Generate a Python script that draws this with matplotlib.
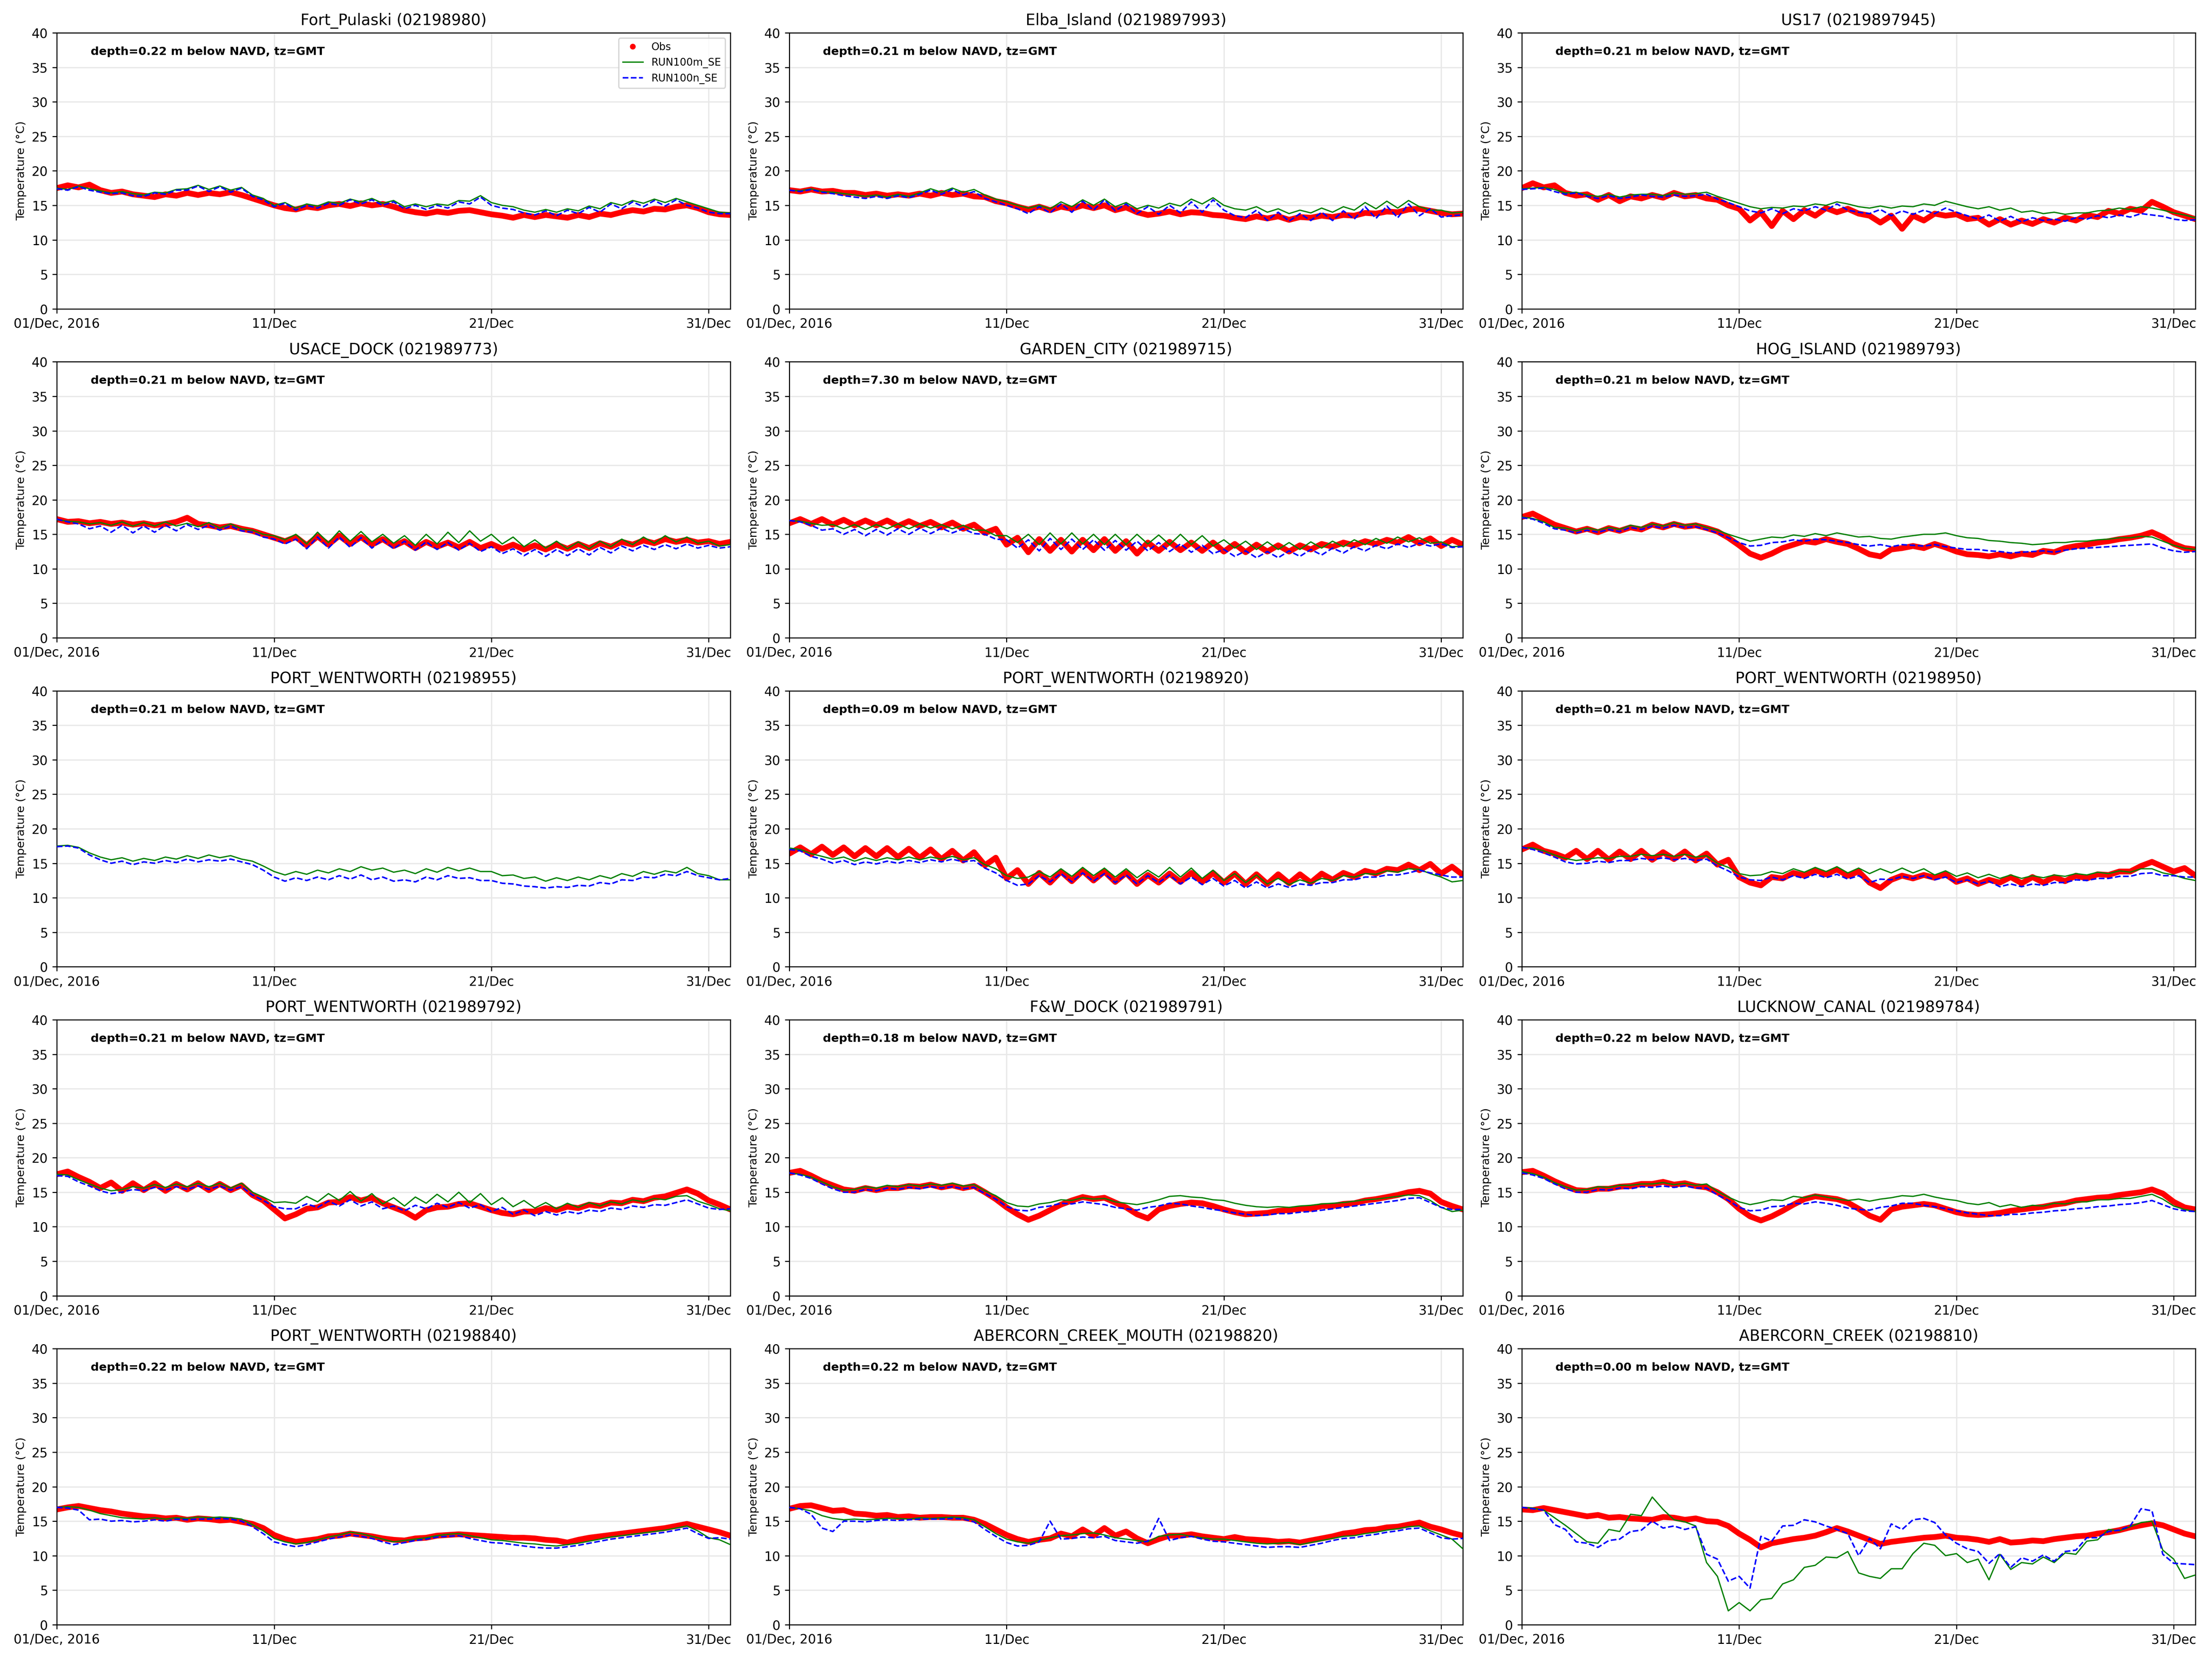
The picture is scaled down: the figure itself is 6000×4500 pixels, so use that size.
import matplotlib
matplotlib.use('Agg')
import matplotlib.pyplot as plt
from matplotlib.lines import Line2D
import pandas as pd
import numpy as np

# 12-hourly samples, 01 Dec 2016 00:00 -> 01 Jan 2017 00:00 (63 values)
times = pd.date_range('2016-12-01', periods=63, freq='12h')
tick_dates = pd.to_datetime(['2016-12-01', '2016-12-11', '2016-12-21', '2016-12-31'])
tick_labels = ['01/Dec, 2016', '11/Dec', '21/Dec', '31/Dec']

titles = ['Fort_Pulaski (02198980)', 'Elba_Island (0219897993)', 'US17 (0219897945)',
          'USACE_DOCK (021989773)', 'GARDEN_CITY (021989715)', 'HOG_ISLAND (021989793)',
          'PORT_WENTWORTH (02198955)', 'PORT_WENTWORTH (02198920)', 'PORT_WENTWORTH (02198950)',
          'PORT_WENTWORTH (021989792)', 'F&W_DOCK (021989791)', 'LUCKNOW_CANAL (021989784)',
          'PORT_WENTWORTH (02198840)', 'ABERCORN_CREEK_MOUTH (02198820)', 'ABERCORN_CREEK (02198810)']
depths = ['0.22', '0.21', '0.21', '0.21', '7.30', '0.21', '0.21', '0.09', '0.21',
          '0.21', '0.18', '0.22', '0.22', '0.22', '0.00']

# Fort_Pulaski
obs_fort = [17.5, 17.9, 17.6, 18.0, 17.2, 16.8, 17.0, 16.6, 16.4, 16.2, 16.6, 16.4, 16.8, 16.5, 16.8, 16.6,
            16.9, 16.5, 16.0, 15.5, 15.0, 14.6, 14.4, 14.8, 14.6, 15.0, 15.2, 14.9, 15.3, 15.0, 15.2, 14.8,
            14.3, 14.0, 13.8, 14.1, 13.9, 14.2, 14.3, 14.0, 13.7, 13.5, 13.2, 13.6, 13.3, 13.6, 13.4, 13.2,
            13.6, 13.3, 13.8, 13.6, 14.0, 14.3, 14.1, 14.5, 14.4, 14.8, 15.0, 14.6, 14.0, 13.7, 13.6]
m_fort = [17.5, 17.3, 17.8, 17.4, 17.1, 16.8, 17.0, 16.7, 16.5, 16.9, 16.8, 17.3, 17.4, 17.9, 17.3, 17.8,
          17.2, 17.6, 16.5, 16.0, 15.0, 15.4, 14.6, 15.2, 14.9, 15.5, 15.3, 15.9, 15.5, 16.0, 15.3, 15.7,
          14.8, 15.2, 14.8, 15.2, 15.0, 15.7, 15.6, 16.4, 15.4, 15.0, 14.8, 14.3, 14.0, 14.4, 14.0, 14.5,
          14.2, 14.9, 14.5, 15.4, 15.0, 15.7, 15.3, 15.9, 15.4, 16.0, 15.5, 15.0, 14.5, 14.0, 13.9]
n_fort = [17.4, 17.2, 17.7, 17.2, 16.9, 16.7, 16.8, 16.4, 16.3, 16.8, 16.6, 17.2, 17.2, 17.8, 17.0, 17.7,
          16.9, 17.5, 16.3, 15.8, 14.8, 15.3, 14.3, 15.0, 14.6, 15.3, 15.0, 15.8, 15.2, 15.8, 15.0, 15.5,
          14.5, 15.0, 14.4, 15.0, 14.6, 15.5, 15.2, 16.2, 15.0, 14.6, 14.4, 13.9, 13.6, 14.2, 13.5, 14.3,
          13.8, 14.7, 14.0, 15.2, 14.5, 15.5, 14.8, 15.7, 14.9, 15.8, 15.0, 14.6, 14.0, 13.8, 13.8]

# Elba_Island
obs_elba = [17.2, 17.0, 17.3, 17.0, 17.1, 16.8, 16.8, 16.5, 16.7, 16.4, 16.6, 16.4, 16.7, 16.4, 16.8, 16.5,
            16.7, 16.3, 16.2, 15.6, 15.3, 14.8, 14.4, 14.8, 14.3, 14.8, 14.5, 15.0, 14.6, 15.0, 14.3, 14.7,
            14.0, 13.6, 13.8, 14.1, 13.7, 14.0, 13.9, 13.6, 13.5, 13.2, 13.0, 13.4, 13.1, 13.4, 12.9, 13.3,
            13.2, 13.5, 13.3, 13.6, 13.5, 13.9, 13.8, 14.1, 14.0, 14.4, 14.5, 14.2, 13.9, 13.7, 13.8]
m_elba = [17.2, 17.1, 17.4, 17.0, 16.9, 16.7, 16.5, 16.3, 16.5, 16.2, 16.6, 16.3, 16.8, 17.4, 16.9, 17.5,
          16.9, 17.3, 16.5, 15.9, 15.5, 15.0, 14.6, 15.0, 14.5, 15.5, 14.8, 15.8, 15.0, 15.9, 14.8, 15.4,
          14.5, 15.0, 14.6, 15.3, 14.9, 15.9, 15.2, 16.1, 15.0, 14.5, 14.3, 14.8, 14.0, 14.5, 13.8, 14.3,
          13.9, 14.6, 14.0, 14.8, 14.3, 15.4, 14.5, 15.6, 14.6, 15.7, 14.8, 14.3, 14.3, 13.9, 14.0]
n_elba = [17.2, 17.0, 17.3, 16.9, 16.7, 16.4, 16.2, 16.0, 16.3, 16.0, 16.4, 16.1, 16.6, 17.2, 16.6, 17.3,
          16.5, 17.0, 16.0, 15.5, 15.0, 14.5, 13.8, 14.8, 13.9, 15.2, 14.0, 15.6, 14.3, 15.8, 14.2, 15.2,
          13.8, 14.8, 13.7, 15.0, 13.9, 15.5, 14.0, 15.8, 14.3, 13.5, 13.2, 14.3, 12.8, 14.0, 12.7, 13.8,
          12.8, 14.0, 12.8, 14.2, 13.0, 14.8, 13.1, 14.9, 13.2, 15.2, 13.5, 14.5, 13.3, 13.5, 13.6]

# US17
obs_us17 = [17.5, 18.2, 17.6, 17.9, 16.8, 16.4, 16.6, 15.8, 16.5, 15.6, 16.3, 16.0, 16.5, 16.1, 16.8, 16.3,
            16.5, 16.0, 15.8, 15.0, 14.5, 12.8, 14.0, 12.0, 14.2, 13.0, 14.3, 13.5, 14.6, 14.0, 14.5, 13.8,
            13.5, 12.5, 13.5, 11.6, 13.5, 12.8, 13.8, 13.5, 13.7, 13.0, 13.2, 12.2, 13.0, 12.2, 12.8, 12.3,
            13.0, 12.5, 13.2, 12.8, 13.6, 13.3, 14.2, 13.8, 14.5, 14.2, 15.5, 14.8, 14.0, 13.5, 13.0]
m_us17 = [17.4, 17.5, 17.6, 17.3, 16.8, 16.9, 16.5, 16.3, 16.6, 16.2, 16.5, 16.6, 16.6, 16.4, 16.8, 16.6,
          16.7, 16.9, 16.3, 15.8, 15.3, 14.8, 14.5, 14.7, 14.6, 14.9, 14.8, 15.2, 15.0, 15.5, 15.2, 14.8,
          14.6, 14.9, 14.6, 14.9, 14.8, 15.2, 15.0, 15.6, 15.2, 14.8, 14.5, 14.8, 14.3, 14.6, 14.0, 14.2,
          13.8, 14.0, 13.7, 13.9, 13.9, 14.2, 14.3, 14.6, 14.4, 14.8, 14.6, 14.3, 13.9, 13.6, 13.2]
n_us17 = [17.3, 17.4, 17.5, 17.0, 16.6, 16.8, 16.3, 16.0, 16.4, 16.0, 16.2, 16.5, 16.3, 16.2, 16.5, 16.3,
          16.4, 16.6, 15.9, 15.4, 14.8, 14.2, 13.9, 14.5, 13.8, 14.5, 14.2, 14.8, 14.3, 15.2, 14.3, 14.0,
          13.8, 14.4, 13.5, 14.2, 13.7, 14.3, 13.8, 14.6, 14.0, 13.5, 13.0, 13.6, 12.7, 13.4, 12.6, 13.2,
          12.8, 13.0, 12.7, 13.2, 13.0, 13.5, 13.2, 13.6, 13.3, 13.8, 13.6, 13.4, 13.0, 12.8, 12.9]

# USACE_DOCK
obs_usace = [17.2, 16.8, 16.9, 16.6, 16.8, 16.5, 16.7, 16.4, 16.6, 16.3, 16.5, 16.8, 17.4, 16.5, 16.3, 16.0,
             16.2, 15.8, 15.5, 15.0, 14.5, 14.0, 14.6, 13.4, 14.7, 13.5, 14.8, 13.6, 14.6, 13.5, 14.3, 13.3,
             14.0, 13.0, 13.9, 13.2, 13.8, 13.1, 13.9, 13.0, 13.6, 12.9, 13.5, 12.8, 13.4, 12.8, 13.5, 12.9,
             13.6, 13.0, 13.7, 13.2, 13.9, 13.5, 14.1, 13.7, 14.3, 13.9, 14.2, 13.8, 14.0, 13.6, 13.9]
m_usace = [17.1, 16.9, 16.8, 16.5, 16.7, 16.3, 16.8, 16.2, 16.7, 16.2, 16.8, 16.2, 16.6, 16.1, 16.7, 15.9,
           16.5, 15.8, 15.6, 15.0, 14.8, 14.2, 15.0, 13.6, 15.3, 13.8, 15.5, 14.0, 15.4, 13.9, 15.0, 13.7,
           14.8, 13.4, 15.0, 13.6, 15.3, 13.8, 15.5, 14.0, 15.0, 13.6, 14.6, 13.2, 14.2, 13.0, 14.0, 12.9,
           13.9, 12.9, 14.0, 13.2, 14.3, 13.5, 14.6, 13.7, 14.8, 13.9, 14.6, 13.7, 14.0, 13.3, 13.5]
n_usace = [17.2, 16.8, 16.5, 15.8, 16.2, 15.3, 16.3, 15.2, 16.2, 15.3, 16.3, 15.5, 16.4, 15.7, 16.3, 15.6,
           16.2, 15.5, 15.3, 14.6, 14.3, 13.6, 14.3, 12.9, 14.6, 13.0, 14.6, 13.1, 14.5, 13.0, 14.2, 12.9,
           14.0, 12.7, 13.9, 12.8, 13.8, 12.7, 13.7, 12.5, 13.2, 12.2, 12.9, 11.9, 12.8, 11.8, 12.8, 11.9,
           12.9, 12.0, 13.1, 12.3, 13.3, 12.6, 13.4, 12.8, 13.5, 12.9, 13.6, 13.0, 13.4, 13.0, 13.2]

# GARDEN_CITY
obs_garden = [16.6, 17.2, 16.5, 17.2, 16.4, 17.1, 16.3, 17.0, 16.3, 17.0, 16.2, 16.9, 16.2, 16.8, 16.0, 16.7,
              15.8, 16.4, 15.2, 15.8, 13.5, 14.5, 12.4, 14.3, 12.6, 14.2, 12.5, 14.2, 12.7, 14.3, 12.6, 14.0,
              12.2, 13.8, 12.6, 13.9, 12.7, 13.8, 12.6, 13.8, 12.5, 13.6, 12.4, 13.5, 12.5, 13.4, 12.5, 13.4,
              12.8, 13.6, 13.2, 13.8, 13.4, 14.0, 13.6, 14.2, 13.8, 14.6, 13.7, 14.4, 13.3, 14.2, 13.5]
m_garden = [17.0, 16.9, 16.6, 16.3, 16.4, 15.8, 16.4, 15.7, 16.4, 15.8, 16.5, 15.8, 16.5, 15.9, 16.4, 15.8,
            16.3, 15.6, 15.6, 14.8, 14.8, 13.8, 15.0, 13.5, 15.2, 13.6, 15.2, 13.6, 15.0, 13.5, 15.0, 13.5,
            15.0, 13.6, 14.9, 13.5, 15.0, 13.5, 14.8, 13.3, 14.2, 13.0, 14.0, 12.8, 13.9, 12.8, 13.8, 12.8,
            13.9, 13.0, 14.0, 13.2, 14.2, 13.5, 14.4, 13.7, 14.6, 13.9, 14.5, 13.7, 13.9, 13.2, 13.3]
n_garden = [17.0, 16.8, 16.3, 15.6, 15.8, 15.0, 15.7, 14.8, 15.7, 14.9, 15.8, 15.0, 15.9, 15.1, 15.9, 15.2,
            15.8, 15.1, 15.0, 14.3, 14.2, 13.0, 14.2, 12.6, 14.4, 12.8, 14.3, 12.8, 14.2, 12.7, 14.1, 12.7,
            14.0, 12.6, 13.8, 12.5, 13.6, 12.4, 13.4, 12.2, 12.8, 11.8, 12.6, 11.6, 12.5, 11.6, 12.6, 11.8,
            12.8, 12.0, 13.0, 12.3, 13.2, 12.6, 13.4, 12.9, 13.6, 13.1, 13.7, 13.3, 13.6, 13.1, 13.2]

# HOG_ISLAND
obs_hog = [17.5, 18.0, 17.2, 16.4, 15.9, 15.4, 15.8, 15.3, 15.9, 15.5, 16.0, 15.7, 16.4, 16.0, 16.5, 16.1,
           16.3, 15.9, 15.4, 14.5, 13.4, 12.2, 11.6, 12.2, 13.0, 13.5, 14.0, 13.8, 14.3, 13.9, 13.6, 12.9,
           12.1, 11.8, 12.8, 13.0, 13.3, 13.0, 13.6, 13.1, 12.5, 12.1, 12.0, 11.8, 12.1, 11.8, 12.2, 12.0,
           12.6, 12.4, 13.0, 13.3, 13.5, 13.8, 14.0, 14.3, 14.5, 14.8, 15.3, 14.6, 13.6, 13.0, 12.8]
m_hog = [17.5, 17.3, 16.8, 16.0, 15.9, 15.5, 15.9, 15.6, 16.0, 15.7, 16.3, 16.0, 16.5, 16.2, 16.7, 16.3,
         16.5, 16.0, 15.6, 15.0, 14.5, 14.0, 14.3, 14.6, 14.5, 14.9, 14.7, 15.1, 14.8, 15.2, 14.9, 14.6,
         14.7, 14.4, 14.3, 14.6, 14.8, 15.0, 15.0, 15.2, 14.8, 14.5, 14.4, 14.1, 14.0, 13.8, 13.7, 13.5,
         13.6, 13.8, 13.8, 14.0, 14.0, 14.2, 14.3, 14.5, 14.5, 14.7, 14.6, 14.0, 13.4, 13.0, 12.8]
n_hog = [17.4, 17.2, 16.6, 15.8, 15.6, 15.2, 15.6, 15.3, 15.7, 15.4, 16.0, 15.7, 16.2, 15.9, 16.3, 16.0,
         16.1, 15.7, 15.2, 14.5, 13.8, 13.3, 13.4, 13.8, 13.9, 14.2, 14.0, 14.3, 14.2, 14.0, 13.8, 13.5,
         13.3, 13.5, 13.2, 13.5, 13.4, 13.3, 13.5, 13.2, 13.0, 12.8, 12.8, 12.6, 12.5, 12.3, 12.4, 12.5,
         12.6, 12.4, 12.7, 12.9, 13.0, 13.1, 13.2, 13.3, 13.4, 13.5, 13.6, 13.0, 12.6, 12.4, 12.5]

# PORT_WENTWORTH (02198955), no observations
m_pw955 = [17.5, 17.6, 17.3, 16.5, 15.9, 15.5, 15.8, 15.3, 15.7, 15.4, 15.9, 15.6, 16.1, 15.7, 16.2, 15.8,
           16.1, 15.6, 15.3, 14.6, 13.8, 13.3, 13.8, 13.4, 14.0, 13.6, 14.2, 13.8, 14.5, 14.0, 14.3, 13.7,
           14.0, 13.5, 14.2, 13.7, 14.4, 13.9, 14.3, 13.8, 13.8, 13.2, 13.3, 12.8, 13.0, 12.4, 12.9, 12.5,
           13.0, 12.6, 13.2, 12.8, 13.5, 13.1, 13.8, 13.4, 13.9, 13.6, 14.4, 13.5, 13.2, 12.6, 12.6]
n_pw955 = [17.4, 17.5, 17.2, 16.2, 15.5, 15.0, 15.3, 14.8, 15.2, 15.0, 15.4, 15.1, 15.6, 15.2, 15.5, 15.3,
           15.6, 15.2, 14.8, 14.0, 13.0, 12.4, 12.9, 12.5, 13.0, 12.6, 13.2, 12.7, 13.3, 12.6, 13.0, 12.4,
           12.6, 12.3, 13.0, 12.6, 13.2, 12.8, 12.9, 12.5, 12.5, 12.1, 12.0, 11.7, 11.6, 11.4, 11.6, 11.5,
           11.8, 11.7, 12.2, 12.0, 12.6, 12.5, 13.0, 12.9, 13.4, 13.2, 13.8, 13.2, 12.9, 12.6, 12.8]

# PORT_WENTWORTH (02198920)
obs_pw920 = [16.4, 17.3, 16.3, 17.4, 16.2, 17.3, 16.0, 17.2, 16.0, 17.2, 15.9, 17.1, 15.8, 17.0, 15.6, 16.8,
             15.4, 16.6, 14.7, 15.8, 12.8, 14.0, 12.0, 13.6, 12.2, 13.8, 12.4, 13.9, 12.5, 13.8, 12.3, 13.6,
             12.0, 13.3, 12.2, 13.5, 12.3, 13.6, 12.3, 13.6, 12.2, 13.5, 12.0, 13.4, 12.0, 13.4, 12.1, 13.4,
             12.2, 13.5, 12.6, 13.6, 13.0, 13.9, 13.5, 14.2, 14.0, 14.8, 14.0, 14.9, 13.5, 14.5, 13.3]
m_pw920 = [17.2, 17.0, 16.4, 16.0, 15.6, 15.9, 15.3, 15.8, 15.4, 15.8, 15.5, 15.9, 15.5, 15.9, 15.6, 16.0,
           15.5, 15.8, 14.8, 14.2, 13.2, 12.8, 13.0, 13.8, 13.0, 14.2, 13.1, 14.4, 13.2, 14.3, 13.0, 14.2,
           12.9, 14.0, 13.0, 14.4, 13.0, 14.3, 12.8, 14.0, 12.5, 13.5, 12.2, 13.3, 12.0, 12.8, 11.9, 12.6,
           12.1, 12.8, 12.5, 13.2, 13.0, 13.5, 13.4, 13.9, 13.7, 14.2, 14.1, 13.5, 13.0, 12.3, 12.5]
n_pw920 = [17.0, 16.8, 16.0, 15.6, 15.0, 15.4, 14.8, 15.2, 14.9, 15.3, 15.0, 15.4, 15.1, 15.5, 15.2, 15.6,
           15.2, 15.4, 14.3, 13.6, 12.5, 11.8, 12.0, 13.2, 12.3, 13.5, 12.3, 13.6, 12.4, 13.5, 12.2, 13.3,
           12.0, 13.2, 12.2, 13.3, 12.0, 13.0, 11.9, 12.8, 11.7, 12.5, 11.4, 12.3, 11.4, 12.0, 11.5, 12.0,
           11.8, 12.2, 12.2, 12.6, 12.6, 13.0, 13.0, 13.3, 13.3, 13.6, 14.0, 13.6, 13.3, 13.0, 13.0]

# PORT_WENTWORTH (02198950)
obs_pw950 = [17.0, 17.7, 16.8, 16.4, 15.8, 16.8, 15.6, 16.8, 15.5, 16.7, 15.6, 16.8, 15.5, 16.6, 15.6, 16.7,
             15.4, 16.4, 14.8, 15.5, 13.0, 12.2, 11.8, 13.0, 12.8, 13.6, 13.2, 14.0, 13.4, 14.1, 13.2, 13.8,
             12.2, 11.4, 12.6, 13.2, 12.8, 13.3, 12.9, 13.4, 12.3, 12.8, 12.0, 12.6, 12.2, 13.0, 12.1, 13.0,
             12.2, 13.0, 12.4, 13.2, 12.8, 13.4, 13.3, 13.8, 13.8, 14.6, 15.2, 14.5, 13.8, 14.3, 13.2]
m_pw950 = [17.3, 17.2, 16.8, 16.2, 15.7, 15.4, 15.6, 15.8, 15.7, 16.0, 16.0, 16.3, 16.1, 16.3, 16.0, 16.3,
           15.9, 16.1, 15.0, 14.4, 13.5, 13.2, 13.3, 13.8, 13.5, 14.2, 13.7, 14.4, 13.8, 14.5, 13.6, 14.3,
           13.5, 14.2, 13.6, 14.3, 13.6, 14.2, 13.3, 13.9, 13.1, 13.6, 12.9, 13.4, 12.8, 13.3, 12.8, 13.2,
           12.9, 13.3, 13.1, 13.5, 13.3, 13.7, 13.5, 13.9, 13.7, 14.2, 14.2, 13.6, 13.3, 12.8, 12.5]
n_pw950 = [17.3, 17.0, 16.5, 15.9, 15.2, 14.9, 15.0, 15.3, 15.1, 15.4, 15.4, 15.7, 15.5, 15.8, 15.5, 15.7,
           15.4, 15.6, 14.6, 13.9, 13.0, 12.6, 12.5, 13.0, 12.6, 13.2, 12.8, 13.4, 12.9, 13.4, 12.7, 13.2,
           12.2, 12.7, 12.6, 13.1, 12.8, 13.2, 12.6, 13.0, 12.2, 12.6, 12.0, 12.4, 11.6, 12.0, 11.6, 12.0,
           11.8, 12.2, 12.2, 12.6, 12.5, 12.8, 12.8, 13.1, 13.1, 13.5, 13.6, 13.2, 13.2, 13.0, 13.0]

# PORT_WENTWORTH (021989792)
obs_pw792 = [17.6, 18.0, 17.2, 16.5, 15.6, 16.4, 15.2, 16.3, 15.3, 16.3, 15.2, 16.2, 15.4, 16.3, 15.3, 16.2,
             15.3, 16.0, 14.6, 13.8, 12.5, 11.2, 11.8, 12.6, 12.8, 13.5, 13.6, 14.3, 13.8, 14.2, 13.4, 12.8,
             12.2, 11.3, 12.4, 12.8, 12.9, 13.3, 13.4, 12.9, 12.4, 12.0, 11.8, 12.2, 12.2, 12.7, 12.4, 12.9,
             12.7, 13.2, 13.0, 13.5, 13.4, 13.9, 13.7, 14.2, 14.4, 14.9, 15.4, 14.8, 13.8, 13.2, 12.5]
m_pw792 = [17.6, 17.5, 16.8, 16.2, 15.6, 15.2, 15.4, 15.8, 15.6, 16.1, 15.7, 16.2, 15.8, 16.3, 15.8, 16.3,
           15.6, 16.3, 15.0, 14.3, 13.5, 13.6, 13.4, 14.4, 13.6, 14.8, 13.8, 15.1, 13.7, 14.8, 13.3, 14.2,
           13.0, 14.3, 13.4, 14.7, 13.6, 15.0, 13.5, 14.8, 13.2, 14.2, 12.9, 13.8, 12.7, 13.5, 12.6, 13.4,
           12.8, 13.5, 13.0, 13.6, 13.3, 13.9, 13.6, 14.1, 13.9, 14.4, 14.5, 13.7, 13.2, 12.6, 12.3]
n_pw792 = [17.4, 17.3, 16.5, 15.9, 15.2, 14.8, 15.0, 15.4, 15.2, 15.7, 15.3, 15.8, 15.4, 15.9, 15.4, 15.9,
           15.3, 15.8, 14.6, 13.8, 12.9, 12.6, 12.6, 13.3, 12.8, 13.7, 13.0, 13.9, 13.0, 13.6, 12.6, 13.0,
           12.3, 13.1, 12.6, 13.4, 12.8, 13.5, 12.7, 13.2, 12.2, 12.8, 11.8, 12.4, 11.6, 12.2, 11.7, 12.2,
           11.9, 12.4, 12.2, 12.7, 12.5, 13.0, 12.8, 13.2, 13.1, 13.5, 13.9, 13.3, 12.7, 12.5, 12.6]

# F&W_DOCK
obs_fw = [17.8, 18.1, 17.4, 16.6, 16.0, 15.4, 15.2, 15.6, 15.3, 15.6, 15.6, 15.9, 15.8, 16.1, 15.7, 16.0,
          15.6, 15.9, 15.0, 14.0, 12.8, 11.8, 11.0, 11.6, 12.4, 13.2, 13.8, 14.3, 14.0, 14.2, 13.5, 12.8,
          11.8, 11.2, 12.5, 13.0, 13.3, 13.5, 13.4, 13.0, 12.5, 12.1, 11.8, 11.9, 12.0, 12.3, 12.4, 12.6,
          12.6, 13.0, 13.0, 13.3, 13.4, 13.8, 14.0, 14.3, 14.6, 15.0, 15.2, 14.8, 13.6, 13.0, 12.5]
m_fw = [17.8, 17.6, 17.2, 16.5, 15.8, 15.3, 15.4, 15.8, 15.6, 16.0, 15.8, 16.1, 15.9, 16.2, 16.0, 16.3,
        15.9, 16.1, 15.2, 14.5, 13.5, 13.0, 12.9, 13.3, 13.5, 13.9, 13.8, 14.2, 14.0, 14.1, 13.6, 13.4,
        13.2, 13.5, 13.9, 14.4, 14.5, 14.3, 14.2, 13.9, 13.8, 13.4, 13.1, 12.9, 12.8, 12.9, 12.8, 13.0,
        13.1, 13.3, 13.4, 13.5, 13.7, 13.9, 14.0, 14.2, 14.4, 14.6, 14.5, 13.8, 12.8, 12.2, 12.4]
n_fw = [17.8, 17.5, 17.0, 16.2, 15.5, 15.0, 15.0, 15.4, 15.2, 15.6, 15.4, 15.7, 15.5, 15.8, 15.6, 15.8,
        15.5, 15.7, 14.8, 14.0, 12.9, 12.4, 12.3, 12.8, 13.0, 13.4, 13.3, 13.6, 13.4, 13.2, 12.8, 12.6,
        12.4, 12.8, 13.0, 13.4, 13.3, 13.0, 12.8, 12.5, 12.3, 12.0, 11.8, 11.6, 11.7, 11.9, 11.9, 12.1,
        12.2, 12.4, 12.6, 12.8, 13.0, 13.2, 13.4, 13.6, 13.8, 14.1, 14.2, 13.5, 12.8, 12.5, 12.5]

# LUCKNOW_CANAL
obs_luck = [17.9, 18.1, 17.4, 16.6, 15.9, 15.3, 15.2, 15.5, 15.5, 15.8, 15.9, 16.2, 16.2, 16.5, 16.1, 16.3,
            15.9, 15.7, 15.0, 14.0, 12.6, 11.5, 10.9, 11.5, 12.3, 13.2, 14.0, 14.4, 14.2, 14.0, 13.5, 12.6,
            11.6, 11.0, 12.5, 12.9, 13.1, 13.3, 13.1, 12.6, 12.1, 11.8, 11.7, 11.8, 12.0, 12.3, 12.5, 12.7,
            12.9, 13.2, 13.4, 13.8, 14.0, 14.2, 14.3, 14.6, 14.8, 15.0, 15.4, 14.8, 13.6, 12.8, 12.5]
m_luck = [18.0, 17.7, 17.2, 16.4, 15.8, 15.3, 15.4, 15.8, 15.7, 16.0, 16.0, 16.2, 16.2, 16.4, 16.1, 16.3,
          16.0, 16.2, 15.1, 14.3, 13.6, 13.2, 13.5, 13.9, 13.8, 14.4, 14.2, 14.6, 14.3, 14.0, 13.8, 14.0,
          13.7, 14.0, 14.2, 14.5, 14.4, 14.7, 14.3, 14.0, 13.8, 13.4, 13.2, 13.5, 12.9, 13.2, 12.8, 13.1,
          13.0, 13.4, 13.3, 13.6, 13.6, 13.9, 13.9, 14.1, 14.1, 14.4, 14.7, 14.0, 13.0, 12.5, 12.2]
n_luck = [17.8, 17.5, 17.0, 16.2, 15.5, 15.0, 15.0, 15.4, 15.3, 15.6, 15.5, 15.8, 15.7, 15.9, 15.7, 15.9,
          15.6, 15.6, 14.6, 13.8, 12.8, 12.3, 12.4, 12.9, 13.0, 13.4, 13.3, 13.6, 13.4, 13.1, 12.7, 12.5,
          12.4, 12.8, 13.0, 13.4, 13.4, 13.1, 12.9, 12.6, 12.3, 12.0, 11.8, 11.6, 11.6, 11.8, 11.8, 12.0,
          12.1, 12.3, 12.4, 12.6, 12.7, 12.9, 13.0, 13.2, 13.3, 13.5, 13.8, 13.2, 12.6, 12.3, 12.2]

# PORT_WENTWORTH (02198840)
obs_pw840 = [16.7, 17.0, 17.2, 16.9, 16.6, 16.4, 16.1, 15.9, 15.7, 15.6, 15.4, 15.5, 15.2, 15.4, 15.3, 15.1,
             15.2, 14.9, 14.6, 14.0, 13.0, 12.4, 12.0, 12.2, 12.4, 12.8, 12.9, 13.2, 13.0, 12.8, 12.5, 12.3,
             12.2, 12.5, 12.6, 12.9, 13.0, 13.1, 13.0, 12.9, 12.8, 12.7, 12.6, 12.6, 12.5, 12.3, 12.2, 11.9,
             12.3, 12.6, 12.8, 13.0, 13.2, 13.4, 13.6, 13.8, 14.0, 14.3, 14.6, 14.2, 13.8, 13.4, 12.9]
m_pw840 = [17.0, 17.1, 17.0, 16.6, 16.1, 15.8, 15.5, 15.4, 15.3, 15.5, 15.3, 15.5, 15.4, 15.6, 15.5, 15.6,
           15.5, 15.3, 14.5, 13.6, 12.5, 12.0, 11.7, 11.9, 12.3, 12.7, 13.0, 13.4, 13.2, 12.8, 12.4, 12.0,
           12.2, 12.4, 12.6, 12.9, 13.1, 13.2, 12.9, 12.6, 12.3, 12.2, 12.0, 11.8, 11.7, 11.5, 11.4, 11.6,
           11.8, 12.1, 12.4, 12.7, 12.9, 13.1, 13.3, 13.5, 13.7, 14.0, 14.3, 13.6, 12.6, 12.3, 11.6]
n_pw840 = [17.0, 16.9, 16.6, 15.2, 15.3, 15.0, 15.1, 14.9, 15.0, 15.2, 15.0, 15.3, 15.2, 15.3, 15.3, 15.4,
           15.3, 15.0, 14.2, 13.2, 12.0, 11.6, 11.3, 11.6, 12.0, 12.4, 12.7, 13.0, 12.8, 12.5, 12.0, 11.6,
           11.9, 12.2, 12.4, 12.7, 12.8, 12.9, 12.5, 12.2, 11.9, 11.8, 11.6, 11.4, 11.2, 11.1, 11.1, 11.3,
           11.5, 11.8, 12.1, 12.4, 12.6, 12.8, 13.0, 13.2, 13.4, 13.7, 14.0, 13.2, 12.5, 12.6, 12.4]

# ABERCORN_CREEK_MOUTH
obs_acm = [16.8, 17.2, 17.3, 16.9, 16.5, 16.6, 16.1, 16.0, 15.8, 15.9, 15.6, 15.7, 15.5, 15.6, 15.6, 15.5,
           15.5, 15.2, 14.6, 13.8, 13.0, 12.4, 12.0, 12.3, 12.5, 13.2, 12.8, 13.8, 12.9, 14.0, 12.9, 13.5,
           12.5, 11.8, 12.4, 12.9, 12.9, 13.1, 12.8, 12.6, 12.4, 12.7, 12.4, 12.3, 12.2, 12.0, 12.1, 11.9,
           12.2, 12.5, 12.8, 13.2, 13.4, 13.7, 13.8, 14.1, 14.2, 14.5, 14.8, 14.2, 13.8, 13.3, 12.9]
m_acm = [17.0, 16.8, 16.5, 15.8, 15.4, 15.2, 15.3, 15.2, 15.3, 15.4, 15.4, 15.3, 15.5, 15.4, 15.5, 15.6,
         15.5, 15.2, 14.2, 13.2, 12.4, 12.0, 11.8, 12.2, 12.6, 12.9, 13.0, 13.2, 13.3, 13.0, 12.6, 12.4,
         12.2, 12.0, 12.8, 13.0, 13.1, 12.8, 12.6, 12.4, 12.4, 12.2, 12.0, 11.8, 11.7, 11.8, 11.9, 11.6,
         11.9, 12.2, 12.5, 12.8, 12.9, 13.2, 13.4, 13.7, 13.9, 14.2, 14.3, 13.6, 13.0, 12.4, 11.0]
n_acm = [17.0, 16.8, 16.0, 14.0, 13.5, 15.0, 15.0, 14.9, 15.1, 15.2, 15.1, 15.2, 15.3, 15.3, 15.3, 15.4,
         15.3, 14.9, 13.8, 12.8, 11.9, 11.4, 11.5, 12.0, 15.0, 12.4, 12.5, 12.7, 12.6, 12.8, 12.2, 12.0,
         11.8, 12.1, 15.4, 12.2, 12.6, 12.8, 12.4, 12.1, 12.0, 11.8, 11.6, 11.4, 11.2, 11.3, 11.3, 11.2,
         11.5, 11.8, 12.2, 12.5, 12.6, 12.9, 13.1, 13.4, 13.6, 13.9, 14.0, 13.3, 12.6, 12.4, 12.5]

# ABERCORN_CREEK
obs_ac = [16.7, 16.6, 16.9, 16.6, 16.3, 16.0, 15.7, 15.9, 15.5, 15.6, 15.4, 15.3, 15.2, 15.6, 15.5, 15.2,
          15.4, 15.0, 14.9, 14.3, 13.2, 12.3, 11.2, 11.8, 12.1, 12.4, 12.6, 12.9, 13.4, 14.0, 13.5, 12.9,
          12.3, 11.7, 12.0, 12.2, 12.4, 12.6, 12.7, 12.9, 12.6, 12.5, 12.3, 12.0, 12.4, 11.9, 12.0, 12.2,
          12.1, 12.4, 12.6, 12.8, 12.9, 13.2, 13.4, 13.7, 14.1, 14.4, 14.7, 14.4, 13.8, 13.2, 12.8]
m_ac = [17.0, 16.9, 16.6, 15.5, 14.4, 13.2, 12.0, 11.8, 13.8, 13.5, 16.0, 15.8, 18.5, 16.7, 15.2, 14.9,
        14.3, 9.0, 7.0, 2.0, 3.2, 2.0, 3.6, 3.8, 5.9, 6.5, 8.3, 8.6, 9.8, 9.7, 10.6, 7.5,
        7.0, 6.7, 8.1, 8.1, 10.3, 11.8, 11.5, 10.0, 10.3, 9.0, 9.5, 6.5, 10.2, 8.0, 9.0, 8.8,
        9.8, 9.0, 10.4, 10.2, 12.1, 12.3, 13.8, 13.6, 14.2, 14.8, 15.0, 10.8, 9.5, 6.7, 7.2]
n_ac = [17.0, 16.8, 16.6, 14.5, 13.8, 12.0, 11.8, 11.2, 12.2, 12.4, 13.5, 13.7, 15.0, 14.0, 14.3, 13.8,
        14.2, 10.2, 9.5, 6.3, 7.0, 5.3, 12.8, 12.1, 14.3, 14.4, 15.2, 14.9, 14.3, 13.8, 13.2, 10.0,
        12.5, 11.0, 14.6, 13.8, 15.2, 15.4, 14.8, 13.0, 11.8, 11.0, 10.6, 8.9, 10.3, 8.3, 9.7, 9.2,
        10.1, 9.2, 10.6, 10.8, 12.6, 12.6, 13.5, 13.7, 14.3, 16.8, 16.5, 10.2, 8.9, 8.8, 8.7]

obs_series = [obs_fort, obs_elba, obs_us17, obs_usace, obs_garden, obs_hog, None, obs_pw920, obs_pw950,
              obs_pw792, obs_fw, obs_luck, obs_pw840, obs_acm, obs_ac]
m_series = [m_fort, m_elba, m_us17, m_usace, m_garden, m_hog, m_pw955, m_pw920, m_pw950,
            m_pw792, m_fw, m_luck, m_pw840, m_acm, m_ac]
n_series = [n_fort, n_elba, n_us17, n_usace, n_garden, n_hog, n_pw955, n_pw920, n_pw950,
            n_pw792, n_fw, n_luck, n_pw840, n_acm, n_ac]

fig, axes = plt.subplots(5, 3, figsize=(24, 18), dpi=250)
fig.subplots_adjust(left=0.0257, right=0.9925, bottom=0.0207, top=0.9802, wspace=0.0876, hspace=0.192)

for k, ax in enumerate(axes.flat):
    if obs_series[k] is not None:
        # obs drawn as a dense band of red dots in the original
        ax.plot(times, obs_series[k], color='red', lw=4.5, solid_capstyle='round',
                solid_joinstyle='round', zorder=2)
    ax.plot(times, m_series[k], color='green', lw=1.0, zorder=3)
    ax.plot(times, n_series[k], color='blue', ls='--', lw=1.2, zorder=4)
    ax.set_xlim(pd.Timestamp('2016-12-01'), pd.Timestamp('2017-01-01'))
    ax.set_ylim(0, 40)
    ax.set_yticks(np.arange(0, 41, 5))
    ax.set_xticks(tick_dates)
    ax.set_xticklabels(tick_labels)
    ax.tick_params(labelsize=10)
    ax.grid(True, color='#e8e8e8', lw=1.0)
    ax.set_axisbelow(True)
    ax.set_title(titles[k], fontsize=12)
    ax.set_ylabel('Temperature (°C)', fontsize=9)
    ax.text(0.05, 0.92, 'depth=' + depths[k] + ' m below NAVD, tz=GMT',
            transform=ax.transAxes, fontsize=9, fontweight='bold')

handles = [Line2D([], [], color='red', marker='.', ls='none', ms=7),
           Line2D([], [], color='green', lw=1.0),
           Line2D([], [], color='blue', ls='--', lw=1.2)]
axes[0, 0].legend(handles, ['Obs', 'RUN100m_SE', 'RUN100n_SE'], loc='upper right', fontsize=8)

fig.savefig('out.png', dpi=250)
